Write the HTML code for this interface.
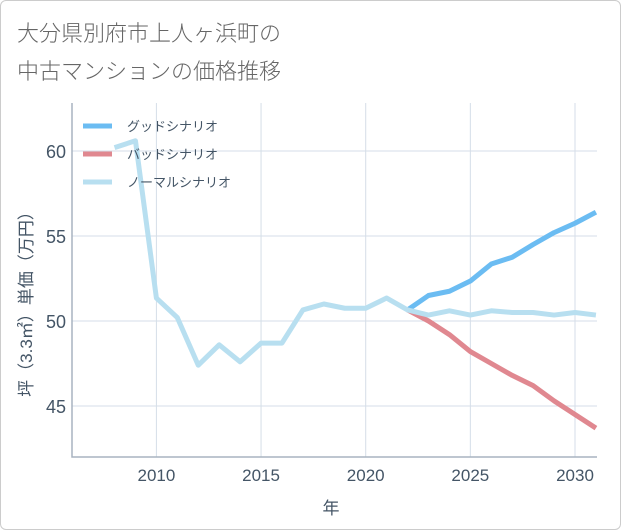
<!DOCTYPE html>
<html><head><meta charset="utf-8"><style>
body{margin:0;background:#fff;font-family:"Liberation Sans","Noto Sans CJK JP",sans-serif;}
#card{position:absolute;left:0;top:0;width:619px;height:528px;border:1px solid #ccc;border-radius:6px;background:#fff;}
</style></head><body>
<div id="card"></div>
<svg id="chart" width="621" height="530" style="position:absolute;left:0;top:0">
<text x="17" y="41" font-size="22" font-weight="300" fill="#666">大分県別府市上人ヶ浜町の</text>
<text x="17" y="79" font-size="22" font-weight="300" fill="#666">中古マンションの価格推移</text>
<g id="grid"></g><g id="series"></g><g id="legend"></g>
<text x="331" y="514" font-size="17" fill="#445566" text-anchor="middle">年</text>
<text transform="translate(32,300) rotate(-90)" font-size="17" fill="#445566" text-anchor="middle">坪（3.3㎡）単価（万円）</text>
</svg>
<script>
const years=[2008,2009,2010,2011,2012,2013,2014,2015,2016,2017,2018,2019,2020,2021,2022,2023,2024,2025,2026,2027,2028,2029,2030,2031];
const normal=[60.2,60.6,51.35,50.2,47.4,48.6,47.6,48.7,48.7,50.65,51.0,50.75,50.75,51.35,50.65,50.35,50.6,50.35,50.6,50.5,50.5,50.35,50.5,50.35];
const goodYears=[2022,2023,2024,2025,2026,2027,2028,2029,2030,2031];
const good=[50.65,51.5,51.75,52.35,53.35,53.75,54.5,55.2,55.75,56.4];
const bad=[50.65,50.0,49.2,48.2,47.5,46.8,46.2,45.3,44.5,43.7];
const xTicks=[2010,2015,2020,2025,2030];
const yTicks=[45,50,55,60];
const L=72,R=597,T=103,B=457;
const x=v=>156.4+(v-2010)*20.93;
const y=v=>321-(v-50)*17;
const NS='http://www.w3.org/2000/svg';
function mk(tag,attrs,parent){const e=document.createElementNS(NS,tag);for(const k in attrs)e.setAttribute(k,attrs[k]);parent.appendChild(e);return e;}
const grid=document.getElementById('grid');
xTicks.forEach(t=>{
 const l=mk('line',{x1:x(t),x2:x(t),y1:T,y2:B,stroke:'#d5dee8','stroke-width':1},grid);
 
 
 const tx=mk('text',{x:x(t),y:B+24,'font-size':17,fill:'#445566','text-anchor':'middle'},grid);
 tx.textContent=t;
 
 
});
yTicks.forEach(t=>{
 const l=mk('line',{x1:L,x2:R,y1:y(t),y2:y(t),stroke:'#d5dee8','stroke-width':1},grid);
 
 
 const tx=mk('text',{x:L-6,y:y(t)+7,'font-size':18,fill:'#445566','text-anchor':'end'},grid);
 tx.textContent=t;
 
 
});
const ax=mk('path',{d:`M${L},${T} V${B} H${R}`,fill:'none',stroke:'#a8b4c0','stroke-width':1.5},grid);


const ser=document.getElementById('series');
function line(xs,vs,color,name){
 const clipX=v=>Math.min(x(v),R);
 const p=mk('polyline',{points:xs.map((v,i)=>clipX(v)+','+y(vs[i])).join(' '),fill:'none',stroke:color,'stroke-width':5,'stroke-linejoin':'round'},ser);
 
 
}
line(goodYears,good,'#6bbcf2','good-scenario-line');
line(goodYears,bad,'#e08890','bad-scenario-line');
line(years,normal,'#b8dff0','normal-scenario-line');
const lg=document.getElementById('legend');
[['グッドシナリオ','#6bbcf2'],['バッドシナリオ','#e08890'],['ノーマルシナリオ','#b8dff0']].forEach((d,i)=>{
 const yy=126+i*28;
 const l=mk('line',{x1:83,x2:112,y1:yy,y2:yy,stroke:d[1],'stroke-width':5},lg);
 
 
 const t=mk('text',{x:127,y:yy+5,'font-size':13,fill:'#445566'},lg);
 t.textContent=d[0];
 
 
});
</script>
</body></html>
